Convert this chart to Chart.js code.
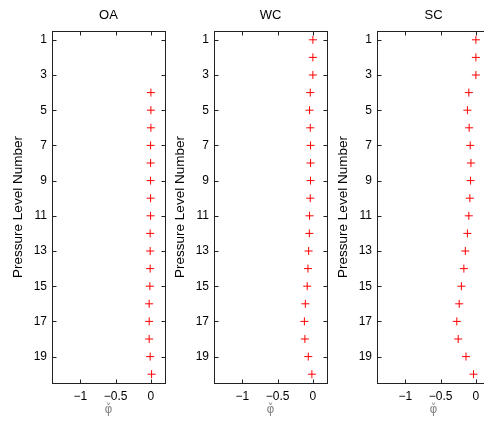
<!DOCTYPE html>
<html>
<head>
<meta charset="utf-8">
<script src="https://cdn.jsdelivr.net/npm/chart.js@4.4.1/dist/chart.umd.min.js"></script>
<style>
  html, body { margin: 0; padding: 0; background: #fff; overflow: hidden; }
  #wrap { position: relative; width: 484px; height: 424px; overflow: hidden; }
  canvas { position: absolute; top: 0; }
</style>
</head>
<body>
<div id="wrap">
  <canvas id="oa" width="170" height="424" style="left:0px"></canvas>
  <canvas id="wc" width="170" height="424" style="left:162px"></canvas>
  <canvas id="sc" width="170" height="424" style="left:325px"></canvas>
</div>
<script>
// Pressure levels (y) and tick values
const levels = [1, 2, 3, 4, 5, 6, 7, 8, 9, 10, 11, 12, 13, 14, 15, 16, 17, 18, 19, 20];
const yTicks = [1, 3, 5, 7, 9, 11, 13, 15, 17, 19];
const xTicks = [-1, -0.5, 0];

// phi-check values per level (null = no marker)
const oaPhi = [null, null, null, 0, 0, 0, -0.004, -0.004, -0.004, -0.004, -0.004, -0.01, -0.01, -0.01, -0.014, -0.024, -0.024, -0.024, -0.01, 0.01];
const wcPhi = [0, 0, 0, -0.037, -0.047, -0.037, -0.033, -0.033, -0.033, -0.037, -0.047, -0.05, -0.06, -0.07, -0.08, -0.107, -0.12, -0.113, -0.065, -0.014];
const scPhi = [0, 0, 0, -0.10, -0.12, -0.095, -0.08, -0.07, -0.075, -0.085, -0.10, -0.12, -0.15, -0.17, -0.205, -0.236, -0.27, -0.25, -0.14, -0.033];

const FONT = "'Liberation Sans', Arial, Helvetica, sans-serif";

// MATLAB style box with inward tick marks
const boxPlugin = {
    id: 'matlabBox',
    afterDraw(chart) {
        const {ctx, chartArea: a, scales} = chart;
        const L = Math.round(a.left) + 0.5, R = Math.round(a.right) + 0.5;
        const T = Math.round(a.top) + 0.5, B = Math.round(a.bottom) + 0.5;
        ctx.save();
        ctx.strokeStyle = '#222';
        ctx.lineWidth = 1;
        ctx.strokeRect(L, T, R - L, B - T);
        ctx.beginPath();
        scales.x.ticks.forEach(t => {
            const px = Math.round(scales.x.getPixelForValue(t.value)) + 0.5;
            ctx.moveTo(px, B); ctx.lineTo(px, B - 4);
            ctx.moveTo(px, T); ctx.lineTo(px, T + 4);
        });
        scales.y.ticks.forEach(t => {
            const py = Math.round(scales.y.getPixelForValue(t.value)) + 0.5;
            ctx.moveTo(L, py); ctx.lineTo(L + 4, py);
            ctx.moveTo(R, py); ctx.lineTo(R - 4, py);
        });
        ctx.stroke();
        ctx.restore();
    }
};

function makePanel(id, title, values) {
    const points = [];
    values.forEach((v, i) => {
        if (v !== null) points.push({x: v, y: levels[i]});
    });

    new Chart(document.getElementById(id), {
        type: 'scatter',
        data: {
            datasets: [{
                data: points,
                xAxisID: 'x',
                yAxisID: 'y',
                pointStyle: 'cross',
                pointRadius: 4,
                pointHoverRadius: 4,
                borderColor: '#ff0000',
                backgroundColor: '#ff0000',
                borderWidth: 1,
                showLine: false
            }]
        },
        options: {
            responsive: false,
            animation: false,
            devicePixelRatio: 1,
            layout: { padding: { left: 0, right: 5, top: 0, bottom: 0 } },
            plugins: {
                legend: { display: false },
                tooltip: { enabled: false }
            },
            scales: {
                x: {
                    type: 'linear',
                    position: 'bottom',
                    min: -1.4,
                    max: 0.2,
                    afterBuildTicks: s => { s.ticks = xTicks.map(v => ({value: v})); },
                    afterFit: s => { s.height = 41; },
                    grid: { display: false, drawTicks: false },
                    border: { display: false },
                    ticks: {
                        color: '#000',
                        padding: 6,
                        font: { family: FONT, size: 12 },
                        callback: v => String(v).replace('-', '\u2212')
                    },
                    title: {
                        display: true,
                        text: '\u03C6\u030C',
                        color: '#888',
                        font: { family: "'DejaVu Sans', sans-serif", size: 12, lineHeight: 1.2 },
                        padding: { top: 0, bottom: 7 }
                    }
                },
                // top axis only carries the panel title, centred over the plot box
                top: {
                    type: 'linear',
                    position: 'top',
                    min: -1.4,
                    max: 0.2,
                    afterFit: s => { s.height = 31; },
                    grid: { display: false, drawTicks: false },
                    border: { display: false },
                    ticks: { display: false },
                    title: {
                        display: true,
                        text: title,
                        color: '#000',
                        font: { family: FONT, size: 13, lineHeight: 1.2 },
                        padding: { top: 7.2, bottom: 0 }
                    }
                },
                y: {
                    type: 'linear',
                    reverse: true,
                    min: 0.5,
                    max: 20.5,
                    afterBuildTicks: s => { s.ticks = yTicks.map(v => ({value: v})); },
                    afterFit: s => { s.width = 52; },
                    grid: { display: false, drawTicks: false },
                    border: { display: false },
                    ticks: {
                        color: '#000',
                        padding: 5,
                        font: { family: FONT, size: 12 }
                    },
                    title: {
                        display: true,
                        text: 'Pressure Level Number',
                        color: '#000',
                        font: { family: FONT, size: 13.5, lineHeight: 1.2 },
                        padding: { top: 10, bottom: 0 }
                    }
                }
            }
        },
        plugins: [boxPlugin]
    });
}

makePanel('oa', 'OA', oaPhi);
makePanel('wc', 'WC', wcPhi);
makePanel('sc', 'SC', scPhi);
</script>
</body>
</html>
